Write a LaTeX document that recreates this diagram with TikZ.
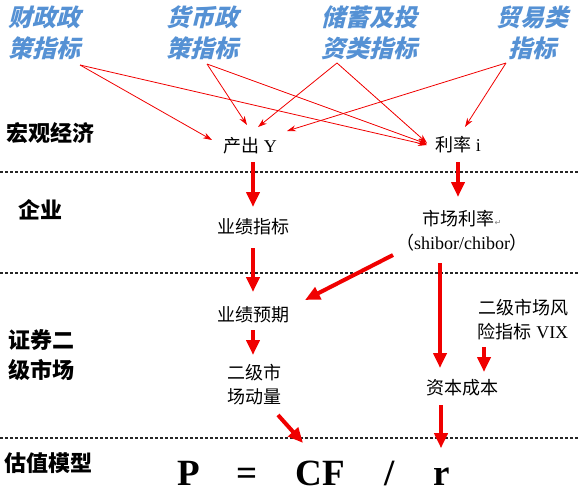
\documentclass[tikz,border=0pt]{standalone}
\usepackage{fontspec}
\setmainfont{Liberation Serif}
\newfontfamily\cjk{Noto Sans CJK SC}
\newfontfamily\cjkit{Noto Sans CJK SC}[FakeSlant=0.25]
\newfontfamily\dv{DejaVu Sans}
\usetikzlibrary{arrows.meta,calc}
\definecolor{arr}{RGB}{240,0,0}
\definecolor{wordblue}{RGB}{85,145,212}
\newcommand\zhtxt[1]{{\cjk #1}}
\tikzset{
  toplabel/.style={align=center, font=\fontsize{24}{31}\selectfont\cjkit\bfseries, text=wordblue, inner sep=0pt},
  rowlabel/.style={align=left, font=\fontsize{22}{30}\selectfont\cjk\bfseries, inner sep=0pt},
  item/.style={align=center, font=\fontsize{18}{24}\selectfont, inner sep=0pt},
  thinarrow/.style={draw=arr, line width=0.8pt, -{Stealth[width=6pt,length=9pt]}},
  bigarrow/.style={draw=arr, line width=4pt, -{Triangle[width=13pt,length=15pt]}},
  sepline/.style={draw=black!85, line width=1.8pt, dash pattern=on 3pt off 2pt},
  formula/.style={font=\fontsize{37}{37}\selectfont\bfseries, inner sep=0pt, anchor=base},
}
\begin{document}
\begin{tikzpicture}[x=1pt,y=-1pt]
\useasboundingbox (0,0) rectangle (579,493);

% separators
\draw[sepline] (0,172) -- (579,172);
\draw[sepline] (0,273) -- (579,273);
\draw[sepline] (0,438) -- (579,438);

% top indicator labels
\node[toplabel] (fiscal) at (45,33) {财政政\\策指标};
\node[toplabel] (monetary) at (202,33) {货币政\\策指标};
\node[toplabel] (saving) at (369,33) {储蓄及投\\资类指标};
\node[toplabel] (trade) at (532,33) {贸易类\\指标};

% row labels
\node[rowlabel] (macro) at (50,133) {宏观经济};
\node[rowlabel] (firm) at (40,210) {企业};
\node[rowlabel, anchor=west] (sec) at (8,355) {证券二\\级市场};
\node[rowlabel] (val) at (49,463) {估值模型};

% items
\node[item] (Y) at (250,146) {\zhtxt{产出} Y};
\node[item] (i) at (458,145) {\zhtxt{利率} i};
\node[item] (perf) at (253,227) {\zhtxt{业绩指标}};
\node[item] (mrate) at (462,231) {\zhtxt{市场利率}{\dv\fontsize{8}{8}\selectfont\color{gray}↵}\\\zhtxt{（}shibor/chibor\zhtxt{）}};
\node[item] (expect) at (253,315) {\zhtxt{业绩预期}};
\node[item] (mom) at (254,385) {\zhtxt{二级市}\\\zhtxt{场动量}};
\node[item] (vix) at (523,320) {\zhtxt{二级市场风}\\\zhtxt{险指标} VIX};
\node[item] (cost) at (462,388) {\zhtxt{资本成本}};

% formula
\node[formula] (P) at (189,485) {P};
\node[formula] (eq) at (247,485) {=};
\node[formula] (CF) at (320,485) {CF};
\node[formula] (sl) at (390,485) {/};
\node[formula] (r) at (442,485) {r};

% thin arrows
\draw[thinarrow] ($(fiscal)+(35,32)$) -- ($(Y)+(-38,-6)$);
\draw[thinarrow] ($(fiscal)+(35,32)$) -- ($(i)+(-31,0)$);
\draw[thinarrow] ($(monetary)+(5,31)$) -- ($(Y)+(-3,-21)$);
\draw[thinarrow] ($(monetary)+(5,31)$) -- ($(i)+(-31,-1)$);
\draw[thinarrow] ($(saving)+(-32,30)$) -- ($(Y)+(8,-19)$);
\draw[thinarrow] ($(saving)+(-32,30)$) -- ($(i)+(-31,-2)$);
\draw[thinarrow] ($(trade)+(-26,30)$) -- ($(Y)+(37,-15)$);
\draw[thinarrow] ($(trade)+(-26,30)$) -- ($(i)+(7,-18)$);

% thick arrows
\draw[bigarrow] ($(Y.center -| perf.center)+(0,16)$) -- ($(perf)+(0,-20)$);
\draw[bigarrow] ($(i)+(0,17)$) -- ($(i.center |- mrate.center)+(0,-34)$);
\draw[bigarrow] ($(perf)+(0,21)$) -- ($(expect)+(0,-23)$);
\draw[bigarrow] ($(mrate)+(-69,24)$) -- ($(expect)+(52,-15)$);
\draw[bigarrow] ($(mrate)+(-22,32)$) -- ($(cost)+(-22,-20)$);
\draw[bigarrow] ($(expect)+(0,15)$) -- ($(mom)+(-1,-30)$);
\draw[bigarrow] ($(vix)+(-39,27)$) -- ($(cost)+(22,-16)$);
\draw[bigarrow] ($(mom)+(24,30)$) -- ($(CF)+(-17,-30)$);
\draw[bigarrow] ($(cost)+(-21,17)$) -- ($(r)+(-1,-28)$);
\end{tikzpicture}
\end{document}
